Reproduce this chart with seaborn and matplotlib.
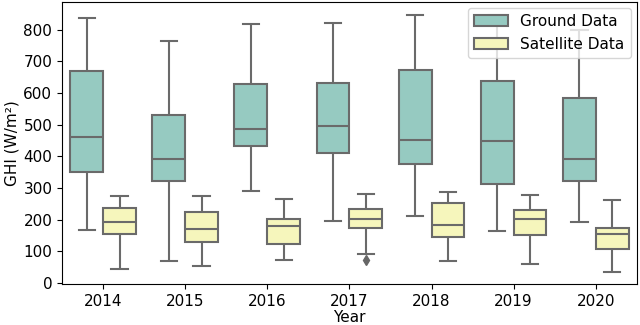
import numpy as np
import pandas as pd
import matplotlib
matplotlib.use("Agg")
import matplotlib.pyplot as plt
import seaborn as sns

# box statistics (W/m²)
years = ["2014", "2015", "2016", "2017", "2018", "2019", "2020"]

ground_min = [168, 69, 291, 195, 211, 165, 191]
ground_q1 = [350, 323, 433, 411, 377, 311, 322]
ground_med = [462, 393, 485, 496, 453, 447, 393]
ground_q3 = [669, 530, 629, 631, 672, 638, 585]
ground_max = [837, 765, 817, 820, 847, 847, 800]
ground_fliers = [[], [], [], [], [], [], []]

sat_min = [44, 53, 71, 90, 68, 60, 36]
sat_q1 = [156, 129, 122, 172, 146, 150, 108]
sat_med = [193, 171, 180, 203, 182, 202, 155]
sat_q3 = [237, 224, 203, 232, 251, 231, 174]
sat_max = [276, 276, 265, 281, 288, 279, 261]
sat_fliers = [[], [], [], [74], [], [], []]


def box_sample(lo, q1, med, q3, hi, fliers):
    # sample whose linear percentiles give exactly q1 / med / q3
    vals = [lo, q1, q1, med, q3, q3, hi]
    for f in fliers:
        vals += [f, hi]
    return vals


rows = []
for name, mins, q1s, meds, q3s, maxs, fl in [
    ("Ground Data", ground_min, ground_q1, ground_med, ground_q3, ground_max, ground_fliers),
    ("Satellite Data", sat_min, sat_q1, sat_med, sat_q3, sat_max, sat_fliers),
]:
    for i, yr in enumerate(years):
        for v in box_sample(mins[i], q1s[i], meds[i], q3s[i], maxs[i], fl[i]):
            rows.append({"Year": yr, "GHI": v, "Source": name})
df = pd.DataFrame(rows)

fig, ax = plt.subplots(figsize=(6.4, 3.25), dpi=100)
sns.boxplot(data=df, x="Year", y="GHI", hue="Source", order=years,
            palette="Set3", width=0.8, linewidth=1.5, ax=ax,
            flierprops={"marker": "d", "markersize": 5,
                        "markerfacecolor": "#666666", "markeredgecolor": "#666666"})

ax.set_xlabel("Year", fontsize=11, labelpad=1)
ax.set_ylabel("GHI (W/m²)", fontsize=11, labelpad=3)
ax.tick_params(labelsize=11)
ax.legend(loc="upper right", fontsize=11, title=None, handlelength=2.2,
          borderaxespad=0.4)

fig.subplots_adjust(left=0.097, right=0.995, top=0.994, bottom=0.125)
fig.savefig("out.png", dpi=100)
